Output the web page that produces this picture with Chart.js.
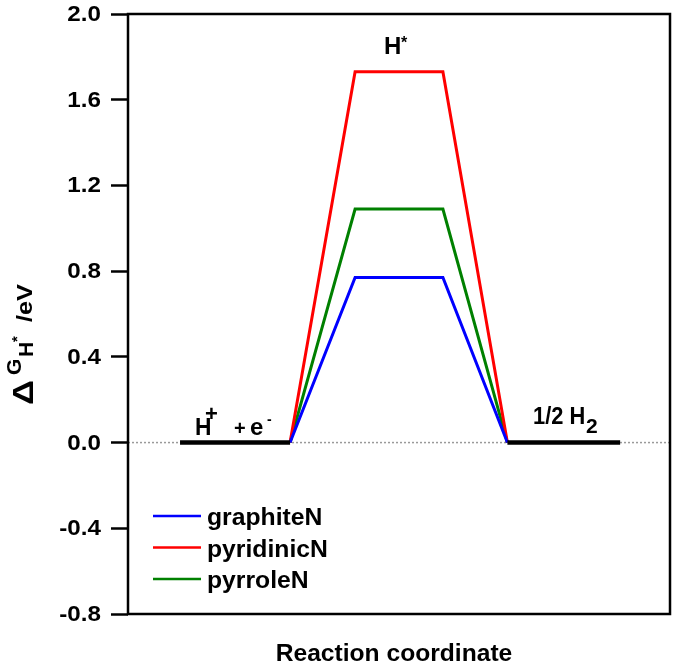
<!DOCTYPE html>
<html>
<head>
<meta charset="utf-8">
<script src="https://cdn.jsdelivr.net/npm/chart.js@4"></script>
<style>
  body { margin: 0; background: #fff; }
  #wrap { width: 675px; height: 669px; position: relative; }
</style>
</head>
<body>
<div id="wrap"><canvas id="dgChart"></canvas></div>
<script>
// reaction coordinate positions (arbitrary units, 0..10)
const reactantX = [0.96, 2.99];            // H+ + e- level
const productX = [7.0, 9.08];              // 1/2 H2 level
const barrierX = [2.99, 4.19, 5.81, 7.0];  // up, H* plateau, down
const axisX = [0, 10];

const seriesNames = ['graphiteN', 'pyridinicN', 'pyrroleN'];
const seriesColors = ['#0000ff', '#ff0000', '#008000'];
const hStarEnergy = [0.77, 1.73, 1.09];    // eV at H*

const yTicks = { min: -0.8, max: 2.0, step: 0.4 };

const FONT = '"Liberation Sans", Arial, sans-serif';

function txt(ctx, s, x, y, size, sx, align, baseline) {
  ctx.save();
  ctx.font = 'bold ' + size + 'px ' + FONT;
  ctx.fillStyle = '#000';
  ctx.textAlign = align || 'left';
  ctx.textBaseline = baseline || 'alphabetic';
  ctx.translate(x, y);
  ctx.scale(sx, 1);
  ctx.fillText(s, 0, 0);
  ctx.restore();
}

// black levels for initial and final states
const levelSets = [reactantX, productX].map(xs => ({
  data: xs.map(x => ({ x, y: 0 })),
  borderColor: '#000', borderWidth: 4.5
}));

const barrierSets = seriesNames.map((name, i) => ({
  label: name,
  data: barrierX.map((x, k) => ({ x, y: (k === 1 || k === 2) ? hStarEnergy[i] : 0 })),
  borderColor: seriesColors[i], borderWidth: 3
}));

const zeroSet = {
  data: axisX.map(x => ({ x, y: 0 })),
  borderColor: '#9a9a9a', borderWidth: 1.5, borderDash: [2, 2]
};

const decor = {
  id: 'decor',
  afterDraw(chart) {
    const ctx = chart.ctx;
    const a = chart.chartArea;
    const ys = chart.scales.y;

    // frame
    ctx.save();
    ctx.strokeStyle = '#000';
    ctx.lineWidth = 2.5;
    ctx.strokeRect(a.left, a.top, a.right - a.left, a.bottom - a.top);
    ctx.restore();

    // y tick labels
    ys.ticks.forEach(t => {
      let v = Math.abs(t.value) < 1e-9 ? 0 : t.value;
      txt(ctx, v.toFixed(1), 101, ys.getPixelForValue(t.value) + 1, 22, 1.1, 'right', 'middle');
    });

    // x title
    txt(ctx, 'Reaction coordinate', 394, 661, 23, 1.07, 'center');

    // y title (rotated)
    ctx.save();
    ctx.translate(33, 405);
    ctx.rotate(-Math.PI / 2);
    txt(ctx, '\u0394', 0, 0, 29, 1.2);
    txt(ctx, 'G', 30, -12, 21, 1.0);
    txt(ctx, 'H', 48, 0, 21, 1.0);
    txt(ctx, '*', 63, -11, 15, 1.0);
    txt(ctx, '/eV', 83, -1, 22, 1.15);
    ctx.restore();

    // stage labels
    txt(ctx, 'H', 195, 435, 24, 0.95);
    txt(ctx, '+', 205, 421, 22, 1.0);
    txt(ctx, '+', 234, 435, 20, 1.0);
    txt(ctx, 'e', 250, 435, 24, 1.0);
    txt(ctx, '-', 267, 424, 14, 1.0);

    txt(ctx, 'H', 384, 54, 24, 1.0);
    txt(ctx, '*', 401, 48, 16, 1.0);

    txt(ctx, '1/2 H', 533, 424, 23, 0.95);
    txt(ctx, '2', 586, 433, 21, 1.0);

    // legend
    seriesNames.forEach((name, i) => {
      const y0 = 516 + i * 31.5;
      ctx.save();
      ctx.strokeStyle = seriesColors[i];
      ctx.lineWidth = 2.5;
      ctx.beginPath();
      ctx.moveTo(153, y0);
      ctx.lineTo(201, y0);
      ctx.stroke();
      ctx.restore();
      txt(ctx, name, 207, y0 + 9, 24, 1.03);
    });
  }
};

new Chart(document.getElementById('dgChart'), {
  type: 'line',
  data: { datasets: [...levelSets, ...barrierSets, zeroSet] },
  options: {
    responsive: true,
    maintainAspectRatio: false,
    animation: false,
    layout: { padding: { left: 0, top: 14, right: 5, bottom: 0 } },
    elements: { point: { radius: 0 }, line: { tension: 0, fill: false } },
    plugins: { legend: { display: false }, tooltip: { enabled: false } },
    scales: {
      x: {
        type: 'linear', min: axisX[0], max: axisX[1],
        ticks: { display: false },
        grid: { display: false },
        border: { display: false },
        afterFit: s => { s.height = 55; }
      },
      y: {
        min: yTicks.min, max: yTicks.max,
        ticks: { display: false, stepSize: yTicks.step },
        grid: { drawOnChartArea: false, drawTicks: true, tickLength: 17, tickWidth: 2.5, tickColor: '#000' },
        border: { display: false },
        afterFit: s => { s.width = 128; }
      }
    }
  },
  plugins: [decor]
});
</script>
</body>
</html>
